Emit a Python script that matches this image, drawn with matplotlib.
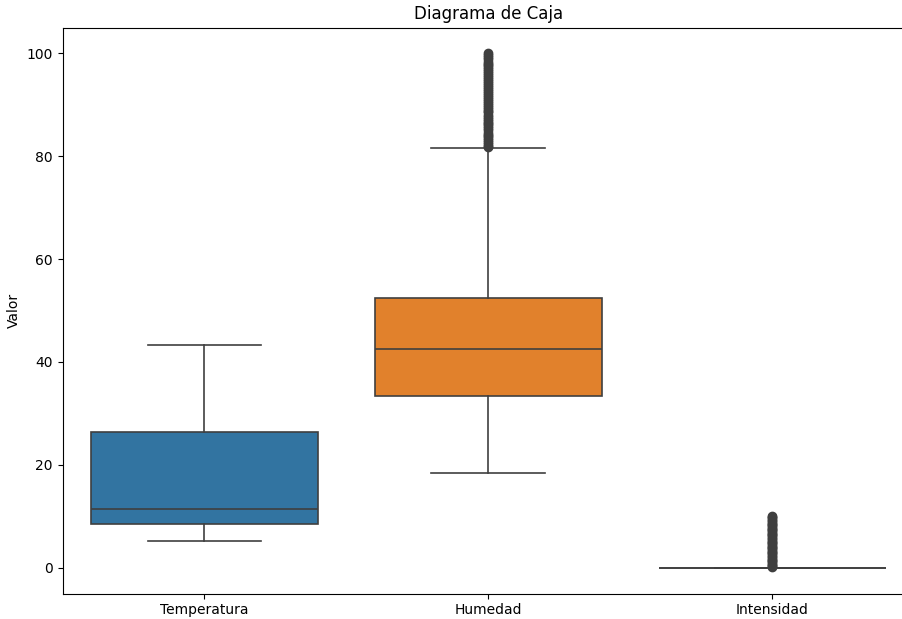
import matplotlib
matplotlib.use("Agg")
import matplotlib.pyplot as plt

# Box statistics
categorias = ["Temperatura", "Humedad", "Intensidad"]
whisker_bajo = [5.2, 18.4, 0.0]
q1 = [8.5, 33.4, 0.0]
mediana = [11.5, 42.5, 0.0]
q3 = [26.3, 52.5, 0.0]
whisker_alto = [43.3, 81.5, 0.0]

# Outliers (dense column of points)
outliers_temperatura = []
outliers_humedad = [81.7, 82.0, 82.4, 82.8, 83.1, 83.5, 83.9, 84.2, 84.6, 85.0,
                    85.4, 85.8, 86.2, 86.5, 86.9, 87.3, 87.7, 88.1, 88.5, 88.8,
                    89.2, 89.6, 90.0, 90.4, 90.8, 91.1, 91.5, 91.9, 92.3, 92.7,
                    93.1, 93.4, 93.8, 94.2, 94.6, 95.0, 95.4, 95.7, 96.1, 96.5,
                    96.9, 97.3, 97.7, 98.0, 98.4, 98.8, 99.2, 99.6, 100.0]
outliers_intensidad = [0.1, 0.3, 0.6, 0.8, 1.1, 1.3, 1.6, 1.8, 2.1, 2.3, 2.6,
                       2.8, 3.1, 3.3, 3.6, 3.8, 4.1, 4.3, 4.6, 4.8, 5.1, 5.3,
                       5.6, 5.8, 6.1, 6.3, 6.6, 6.8, 7.1, 7.3, 7.6, 7.8, 8.1,
                       8.3, 8.6, 8.8, 9.1, 9.3, 9.6, 9.8, 10.0]

colores = ["#3274a1", "#e1812c", "#3a923a"]
linea = "#3f3f3f"

stats = []
outliers = [outliers_temperatura, outliers_humedad, outliers_intensidad]
for i, nombre in enumerate(categorias):
    stats.append({
        "label": nombre,
        "whislo": whisker_bajo[i],
        "q1": q1[i],
        "med": mediana[i],
        "q3": q3[i],
        "whishi": whisker_alto[i],
        "fliers": outliers[i],
    })

fig = plt.figure(figsize=(9.02, 6.19), dpi=100)
# the reference is cropped on the right, so the axes runs past the figure edge
ax = fig.add_axes([62.5 / 902, 1 - 593.5 / 619, (914 - 62.5) / 902, (593.5 - 27.6) / 619])

bp = ax.bxp(
    stats,
    positions=range(len(categorias)),
    widths=0.8,
    patch_artist=True,
    showfliers=True,
    boxprops=dict(edgecolor=linea, linewidth=1.2),
    medianprops=dict(color=linea, linewidth=1.2),
    whiskerprops=dict(color=linea, linewidth=1.2),
    capprops=dict(color=linea, linewidth=1.2),
    capwidths=0.4,
    flierprops=dict(marker="o", markersize=6, markerfacecolor=linea,
                    markeredgecolor=linea),
)
for caja, color in zip(bp["boxes"], colores):
    caja.set_facecolor(color)

ax.set_xlim(-0.5, 2.5)
ax.set_ylim(-5, 105)
ax.set_xticks(range(len(categorias)))
ax.set_xticklabels(categorias)
ax.set_ylabel("Valor")
ax.set_title("Diagrama de Caja")

fig.savefig("out.png", dpi=100)
